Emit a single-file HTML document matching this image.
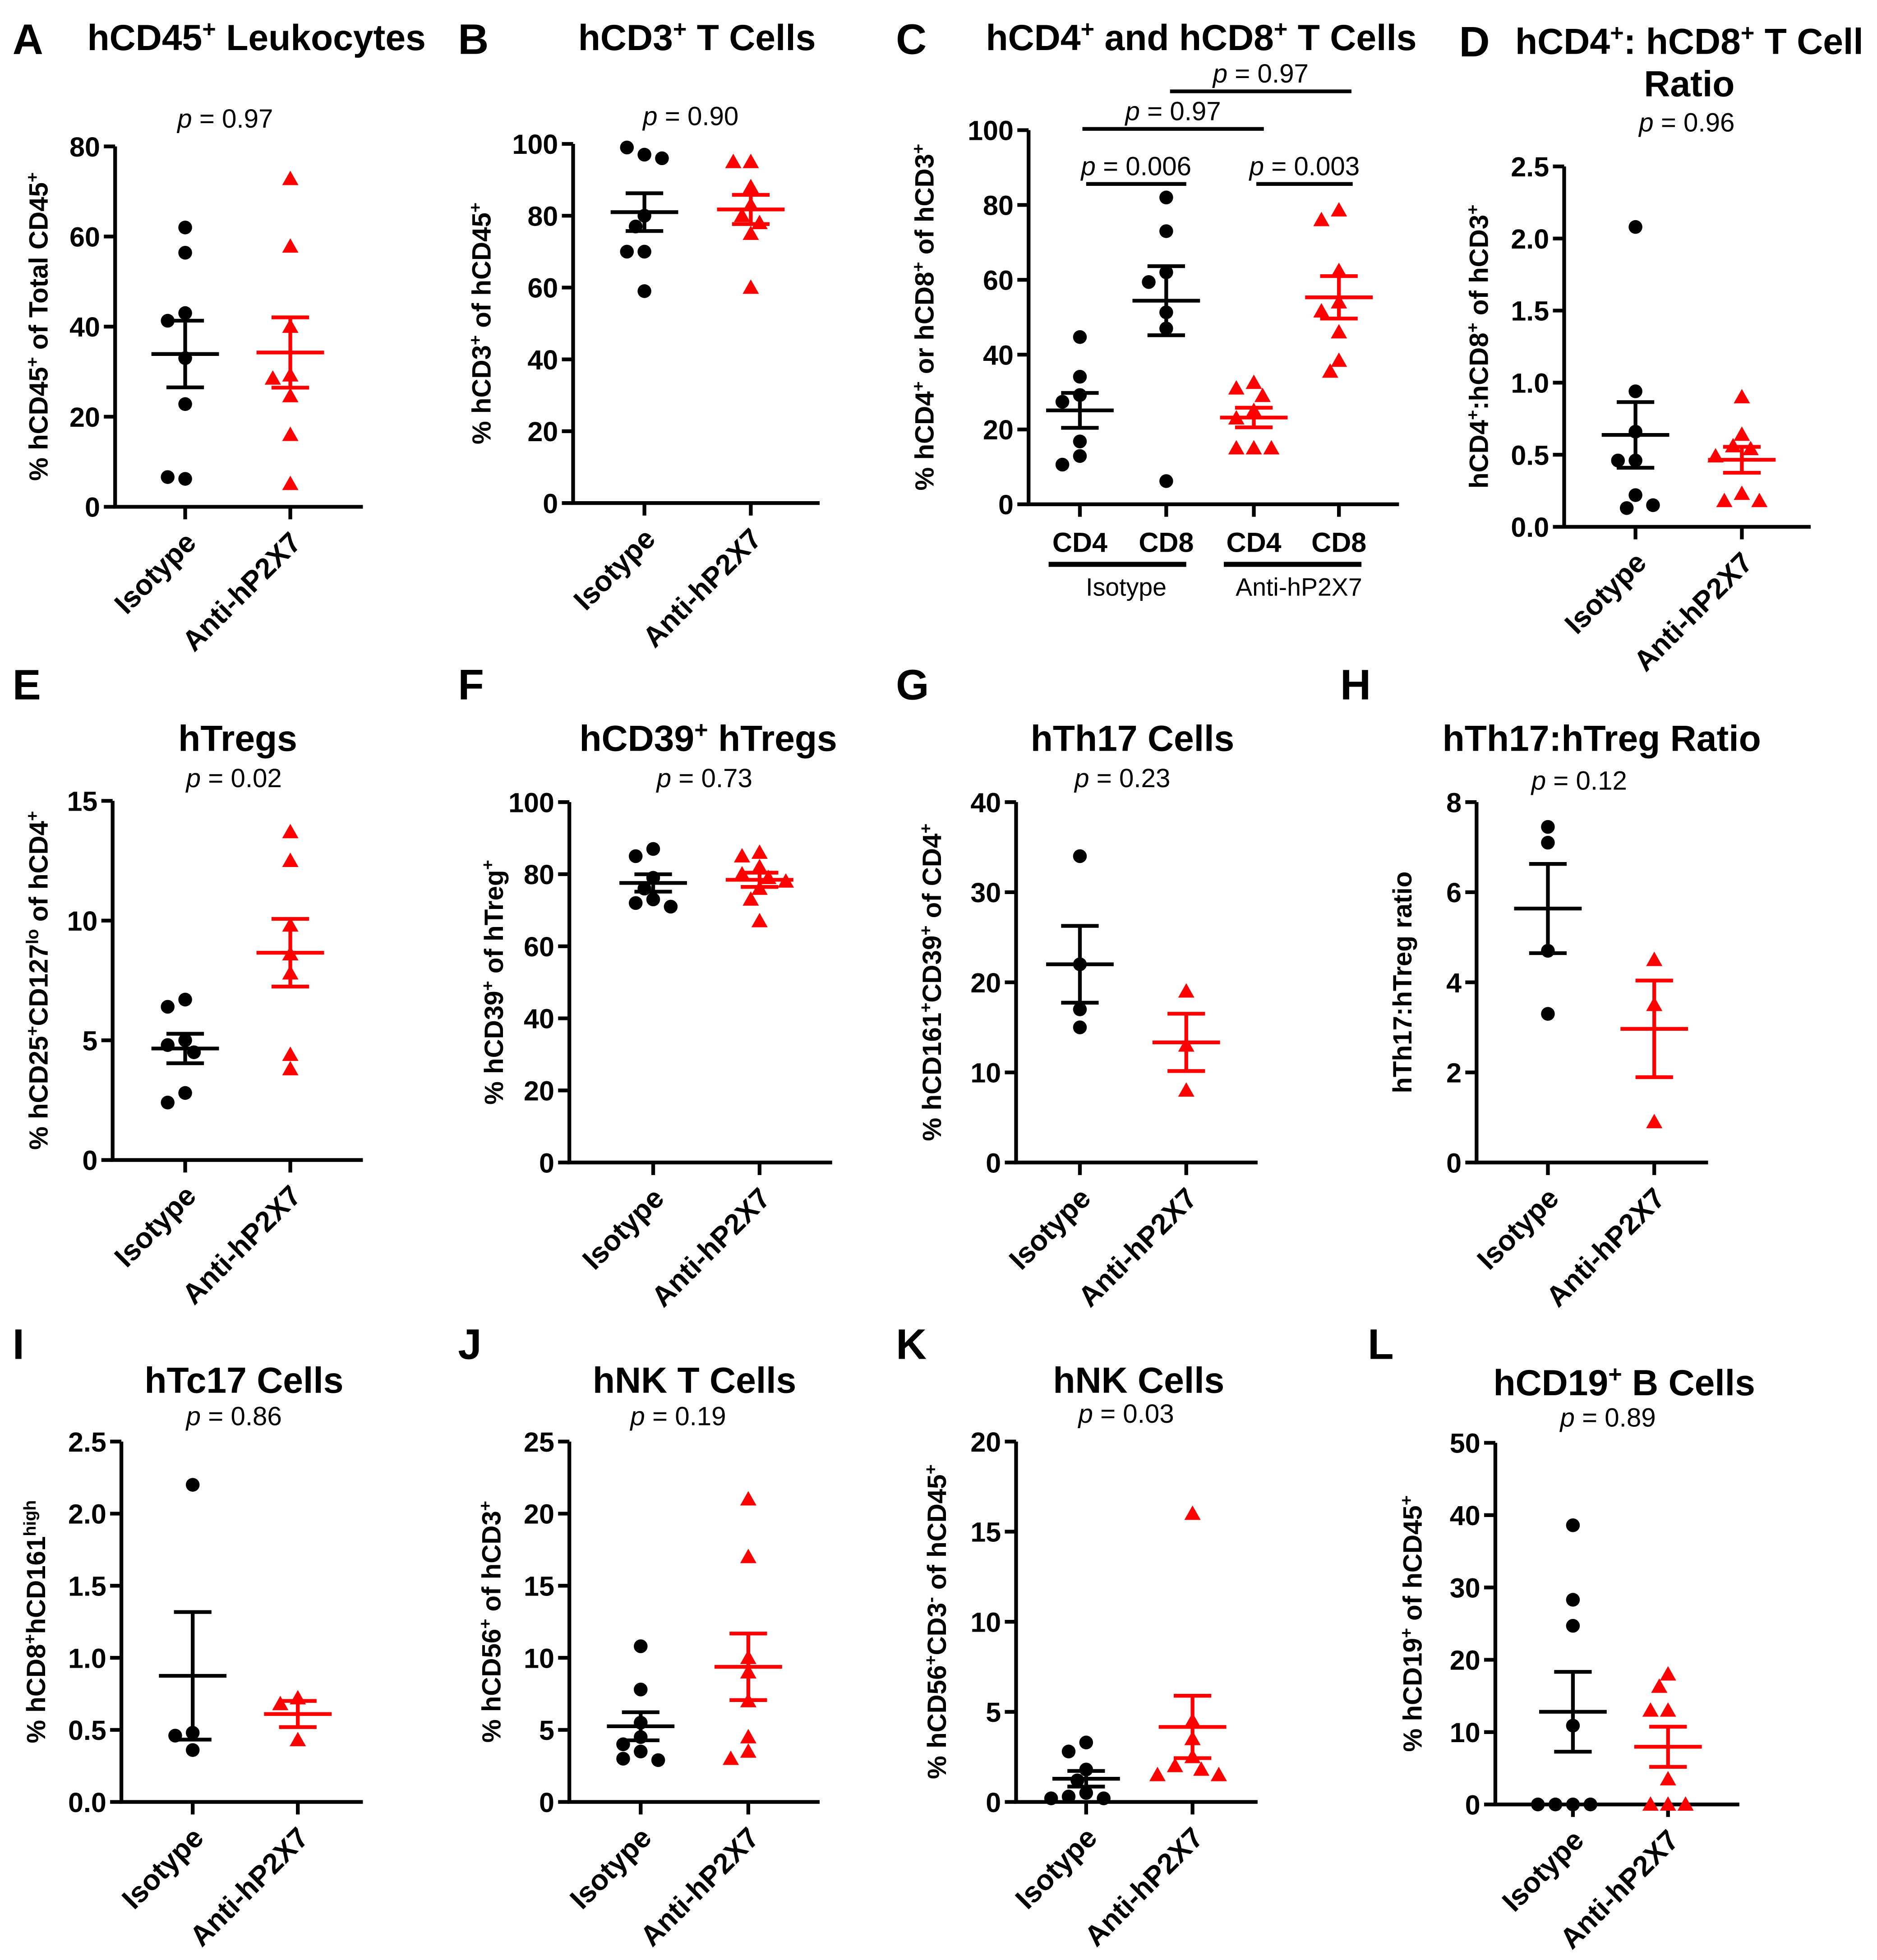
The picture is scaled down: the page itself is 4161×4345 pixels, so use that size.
<!DOCTYPE html>
<html><head><meta charset="utf-8"><style>
html,body{margin:0;padding:0;background:#fff}
svg{display:block}
text{font-family:"Liberation Sans",sans-serif}
</style></head><body>
<svg id="fig" width="4161" height="4345" viewBox="0 0 1500 1566.3" preserveAspectRatio="none" xmlns="http://www.w3.org/2000/svg"></svg>
<script>
// ---- data ----
const groups = ["Isotype", "Anti-hP2X7"];
const aIso = [62, 56.4, 43, 41.3, 33, 22.8, 6.2, 6.6];
const aAnti = [72.8, 57.8, 40, 29.2, 28.5, 24.6, 16, 5.1];
const bIso = [97, 99, 96, 80, 77, 70, 70, 59];
const bAnti = [95, 95, 88, 83, 80, 78, 75, 60];
const cIsoCD4 = [44.7, 34.1, 29.2, 27.4, 16.8, 12.9, 10.6];
const cIsoCD8 = [82, 73, 62, 59.4, 51.3, 47, 6.2];
const cAntiCD4 = [32.5, 31, 29, 25, 23, 15, 15, 15];
const cAntiCD8 = [78.6, 76, 62.4, 54, 51.6, 46, 38.4, 35.5];
const dIso = [2.08, 0.94, 0.66, 0.46, 0.46, 0.22, 0.13, 0.15];
const dAnti = [0.9, 0.64, 0.56, 0.54, 0.49, 0.23, 0.18, 0.18];
const eIso = [6.7, 6.4, 5.0, 4.8, 4.5, 2.8, 2.4];
const eAnti = [13.7, 12.5, 9.8, 8.6, 7.8, 4.4, 3.8];
const fIso = [87, 85, 79, 76, 73, 72, 71];
const fAnti = [86, 85, 82, 80, 79, 78, 76, 73, 67];
const gIso = [34, 22, 17, 15];
const gAnti = [19, 13, 8];
const hIso = [7.45, 7.1, 4.7, 3.3];
const hAnti = [4.5, 3.5, 0.9];
const iIso = [2.2, 0.48, 0.46, 0.36];
const iAnti = [0.72, 0.68, 0.43];
const jIso = [10.8, 7.8, 5.5, 4.5, 4.0, 3.5, 3.0, 2.9];
const jAnti = [21, 17, 10, 9, 7, 4.5, 3.5, 3];
const kIso = [3.3, 2.8, 1.8, 1.2, 0.5, 0.3, 0.2, 0.2];
const kAnti = [16, 4.5, 3.5, 2.5, 2.0, 1.8, 1.5, 1.5];
const lIso = [38.6, 28.3, 24.7, 10.9, 0, 0, 0, 0];
const lAnti = [18, 16.3, 13, 13, 3.5, 0, 0, 0];
const pValues = ["0.97","0.90","0.96","0.02","0.73","0.23","0.12","0.86","0.19","0.03","0.89"];
const cPValues = ["0.006","0.003","0.97","0.97"];

const NS="http://www.w3.org/2000/svg";
const svg=document.getElementById('fig');
function mk(tag,attrs,parent){const e=document.createElementNS(NS,tag);for(const k in attrs)e.setAttribute(k,attrs[k]);(parent||svg).appendChild(e);return e;}
function rich(t,segs){segs.forEach(s=>{const ts=document.createElementNS(NS,'tspan');ts.textContent=s[0];if(s[1]==='sup'){ts.setAttribute('baseline-shift','super');ts.setAttribute('font-size','65%');}if(s[1]==='i'){ts.setAttribute('font-style','italic');}t.appendChild(ts);});}
function txt(x,y,segs,opts,name){const t=mk('text',Object.assign({x:x,y:y},opts));rich(t,segs);return t;}
function pText(x,y,v,name){return txt(x,y,[["p","i"],[" = "+v]],{'font-size':21,'text-anchor':'middle'},name);}

function swarm(vals,yf,cx){const placed=[];const s=7,r=11;return vals.map(v=>{const y=yf(v);const cands=[0];for(let k=1;k<8;k++){cands.push(-k*s,k*s);}let ox=0;for(const c of cands){if(placed.every(p=>Math.hypot(p[0]-(cx+c),p[1]-y)>=r)){ox=c;break;}}placed.push([cx+ox,y]);return [cx+ox,y];});}
function markers(g,vals,yf,cx,color,tri,name){const pts=swarm(vals,yf,cx);pts.forEach(p=>{let e;if(tri){e=mk('polygon',{points:`${p[0]},${p[1]-6.5} ${p[0]-6.5},${p[1]+5} ${p[0]+6.5},${p[1]+5}`,fill:color},g);}else{e=mk('circle',{cx:p[0],cy:p[1],r:5.5,fill:color},g);}

});
const n=vals.length,m=vals.reduce((a,b)=>a+b,0)/n;const sd=Math.sqrt(vals.reduce((a,b)=>a+(b-m)*(b-m),0)/(n-1));const se=sd/Math.sqrt(n);
const st={stroke:color,'stroke-width':3};
const ml=mk('line',Object.assign({x1:cx-27,x2:cx+27,y1:yf(m),y2:yf(m)},st),g);
const el=mk('line',Object.assign({x1:cx,x2:cx,y1:yf(m+se),y2:yf(m-se)},st),g);
[m+se,m-se].forEach(v=>{const c=mk('line',Object.assign({x1:cx-15,x2:cx+15,y1:yf(v),y2:yf(v)},st),g);});}

function panel(o){
 const g=mk('g',{});
 const yf=v=>o.y0-(v/o.max)*(o.y0-o.yt);
 txt(o.lx,o.ly,[[o.id.toUpperCase()]],{'font-size':34,'font-weight':'bold'},'panel-letter');
 o.title.forEach((t,i)=>txt(o.tx,o.ty+i*34,t,{'font-size':29,'font-weight':'bold','text-anchor':'middle'},'panel-title'));
 if(o.p)pText(o.px,o.py,o.p,'p-value');
 const ax=mk('path',{d:`M${o.ax},${o.yt} L${o.ax},${o.y0} L${o.xe},${o.y0}`,fill:'none',stroke:'#000','stroke-width':3},g);
 for(let k=0;k<=o.max+1e-9;k+=o.step){const y=yf(k);const tk=mk('line',{x1:o.ax-9,x2:o.ax,y1:y,y2:y,stroke:'#000','stroke-width':3},g);
 txt(o.ax-12,y+8,[[o.dec?k.toFixed(1):String(Math.round(k))]],{'font-size':22,'font-weight':'bold','text-anchor':'end'},'y-tick-label');}
 txt(0,0,o.ylab,{'font-size':21,'font-weight':'bold','text-anchor':'middle',transform:`translate(${o.ylx},${(o.y0+o.yt)/2}) rotate(-90)`},'y-axis-title');
 o.series.forEach((s,i)=>{const tk=mk('line',{x1:s.x,x2:s.x,y1:o.y0,y2:o.y0+10,stroke:'#000','stroke-width':3},g);
 markers(g,s.v,yf,s.x,s.c,s.tri,s.name);
 if(!o.noXL){txt(0,0,[[groups[i]]],{'font-size':23,'font-weight':'bold','text-anchor':'end',transform:`translate(${s.x+10},${o.y0+30}) rotate(-45)`},'x-tick-label');}});
 return yf;}

const K='#000',R='#ff0000';
function two(iso,anti,x1,x2){return [{x:x1,v:iso,c:K,tri:false,name:'isotype-point'},{x:x2,v:anti,c:R,tri:true,name:'anti-hp2x7-point'}];}

panel({id:'a',lx:10,ly:43,tx:205,ty:40,title:[[["hCD45"],["+","sup"],[" Leukocytes"]]],p:pValues[0],px:180,py:102,ax:92,y0:405,yt:117,max:80,step:20,xe:290,ylx:38,ylab:[["% hCD45"],["+","sup"],[" of Total CD45"],["+","sup"]],series:two(aIso,aAnti,148,232)});
panel({id:'b',lx:366,ly:43,tx:557,ty:40,title:[[["hCD3"],["+","sup"],[" T Cells"]]],p:pValues[1],px:552,py:100,ax:458,y0:402,yt:115,max:100,step:20,xe:655,ylx:392,ylab:[["% hCD3"],["+","sup"],[" of hCD45"],["+","sup"]],series:two(bIso,bAnti,515,600)});
panel({id:'c',lx:716,ly:43,tx:960,ty:40,title:[[["hCD4"],["+","sup"],[" and hCD8"],["+","sup"],[" T Cells"]]],p:null,ax:822,y0:403,yt:104,max:100,step:20,xe:1118,ylx:746,noXL:true,ylab:[["% hCD4"],["+","sup"],[" or hCD8"],["+","sup"],[" of hCD3"],["+","sup"]],
series:[{x:863,v:cIsoCD4,c:K,tri:false,name:'isotype-cd4-point'},{x:932,v:cIsoCD8,c:K,tri:false,name:'isotype-cd8-point'},{x:1002,v:cAntiCD4,c:R,tri:true,name:'anti-cd4-point'},{x:1070,v:cAntiCD8,c:R,tri:true,name:'anti-cd8-point'}]});
[[863,"CD4"],[932,"CD8"],[1002,"CD4"],[1070,"CD8"]].forEach(a=>txt(a[0],441,[[a[1]]],{'font-size':22,'font-weight':'bold','text-anchor':'middle'},'x-tick-label'));
[[838,948,"Isotype",900],[978,1088,"Anti-hP2X7",1038]].forEach(a=>{const l=mk('line',{x1:a[0],x2:a[1],y1:451,y2:451,stroke:'#000','stroke-width':4});txt(a[3],476,[[a[2]]],{'font-size':20,'text-anchor':'middle'},'group-label');});
[[868,948,147,cPValues[0]],[1004,1081,147,cPValues[1]],[865,1010,103,cPValues[2]],[935,1080,73,cPValues[3]]].forEach(b=>{const l=mk('line',{x1:b[0],x2:b[1],y1:b[2],y2:b[2],stroke:'#000','stroke-width':3});pText((b[0]+b[1])/2,b[2]-7,b[3],'comparison-p-value');});
panel({id:'d',lx:1166,ly:45,tx:1350,ty:43,title:[[["hCD4"],["+","sup"],[": hCD8"],["+","sup"],[" T Cell"]],[["Ratio"]]],p:pValues[2],px:1348,py:105,ax:1250,y0:421,yt:133,max:2.5,step:0.5,dec:true,xe:1447,ylx:1189,ylab:[["hCD4"],["+","sup"],[":hCD8"],["+","sup"],[" of hCD3"],["+","sup"]],series:two(dIso,dAnti,1307,1392)});

panel({id:'e',lx:10,ly:559,tx:190,ty:600,title:[[["hTregs"]]],p:pValues[3],px:187,py:629,ax:90,y0:927,yt:640,max:15,step:5,xe:290,ylx:38,ylab:[["% hCD25"],["+","sup"],["CD127"],["lo","sup"],[" of hCD4"],["+","sup"]],series:two(eIso,eAnti,148,232)});
panel({id:'f',lx:366,ly:559,tx:566,ty:600,title:[[["hCD39"],["+","sup"],[" hTregs"]]],p:pValues[4],px:563,py:629,ax:455,y0:929,yt:641,max:100,step:20,xe:665,ylx:402,ylab:[["% hCD39"],["+","sup"],[" of hTreg"],["+","sup"]],series:two(fIso,fAnti,522,607)});
panel({id:'g',lx:716,ly:559,tx:905,ty:600,title:[[["hTh17 Cells"]]],p:pValues[5],px:897,py:629,ax:812,y0:929,yt:641,max:40,step:10,xe:1005,ylx:752,ylab:[["% hCD161"],["+","sup"],["CD39"],["+","sup"],[" of CD4"],["+","sup"]],series:two(gIso,gAnti,863,948)});
panel({id:'h',lx:1071,ly:559,tx:1280,ty:600,title:[[["hTh17:hTreg Ratio"]]],p:pValues[6],px:1262,py:631,ax:1180,y0:929,yt:641,max:8,step:2,xe:1365,ylx:1128,ylab:[["hTh17:hTreg ratio"]],series:two(hIso,hAnti,1237,1322)});

panel({id:'i',lx:10,ly:1086,tx:195,ty:1113,title:[[["hTc17 Cells"]]],p:pValues[7],px:187,py:1139,ax:97,y0:1440,yt:1152,max:2.5,step:0.5,dec:true,xe:290,ylx:36,ylab:[["% hCD8"],["+","sup"],["hCD161"],["high","sup"]],series:two(iIso,iAnti,154,238)});
panel({id:'j',lx:366,ly:1086,tx:555,ty:1113,title:[[["hNK T Cells"]]],p:pValues[8],px:542,py:1139,ax:455,y0:1440,yt:1152,max:25,step:5,xe:655,ylx:400,ylab:[["% hCD56"],["+","sup"],[" of hCD3"],["+","sup"]],series:two(jIso,jAnti,512,598)});
panel({id:'k',lx:716,ly:1086,tx:910,ty:1113,title:[[["hNK Cells"]]],p:pValues[9],px:900,py:1137,ax:812,y0:1440,yt:1152,max:20,step:5,xe:1005,ylx:756,ylab:[["% hCD56"],["+","sup"],["CD3"],["-","sup"],[" of hCD45"],["+","sup"]],series:two(kIso,kAnti,868,953)});
panel({id:'l',lx:1093,ly:1086,tx:1298,ty:1115,title:[[["hCD19"],["+","sup"],[" B Cells"]]],p:pValues[10],px:1285,py:1140,ax:1195,y0:1442,yt:1153,max:50,step:10,xe:1390,ylx:1136,ylab:[["% hCD19"],["+","sup"],[" of hCD45"],["+","sup"]],series:two(lIso,lAnti,1257,1333)});
</script>
</body></html>
